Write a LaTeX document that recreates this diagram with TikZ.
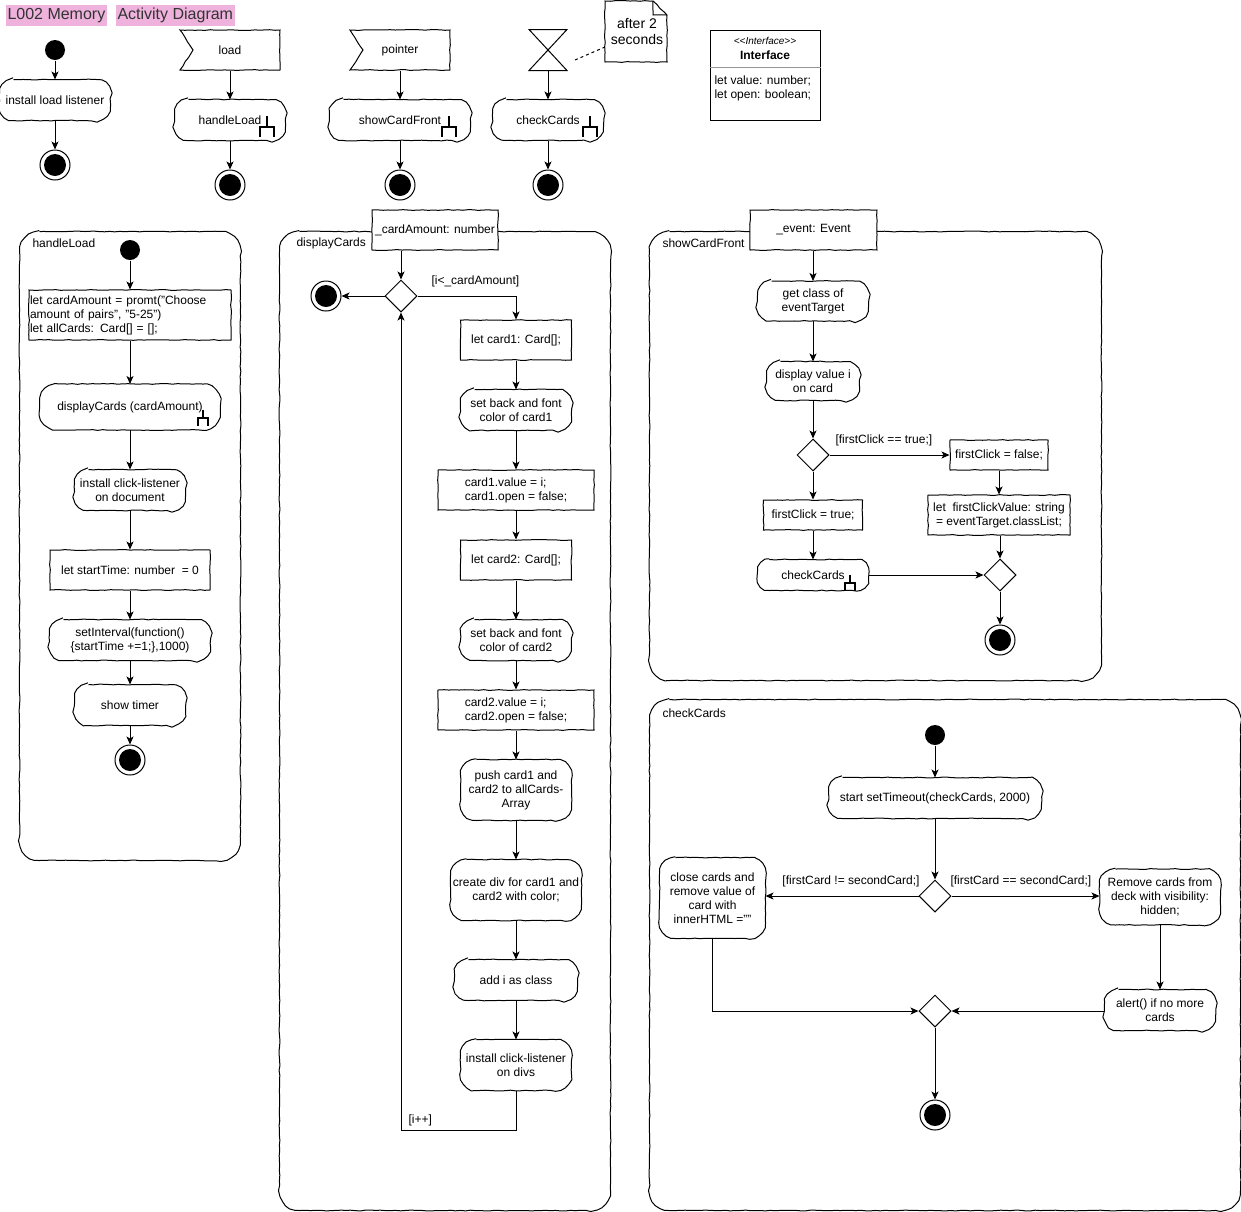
\documentclass[tikz,border=0pt]{standalone}
\usepackage{fontspec}
\setmainfont{Liberation Sans}
\usetikzlibrary{shapes.geometric,arrows.meta,decorations.pathmorphing,calc}
\definecolor{titlepink}{RGB}{238,178,220}
\definecolor{titleink}{RGB}{51,51,51}
\definecolor{divgray}{RGB}{150,150,150}
% hand-drawn outline with rounded corners around a named node
\newcommand\skround[2]{%
  \pgfmathsetmacro\kk{0.448*#2}%
  \draw[sk] ($(#1.north west)+(#2,0)$) -- ($(#1.north east)+(-#2,0)$)
    .. controls ($(#1.north east)+(-\kk,0)$) and ($(#1.north east)+(0,\kk)$) .. ($(#1.north east)+(0,#2)$)
    -- ($(#1.south east)+(0,-#2)$)
    .. controls ($(#1.south east)+(0,-\kk)$) and ($(#1.south east)+(-\kk,0)$) .. ($(#1.south east)+(-#2,0)$)
    -- ($(#1.south west)+(#2,0)$)
    .. controls ($(#1.south west)+(\kk,0)$) and ($(#1.south west)+(0,-\kk)$) .. ($(#1.south west)+(0,-#2)$)
    -- ($(#1.north west)+(0,#2)$)
    .. controls ($(#1.north west)+(0,\kk)$) and ($(#1.north west)+(\kk,0)$) .. ($(#1.north west)+(#2,0)$);}
\begin{document}
\pgfmathsetseed{11}
\begin{tikzpicture}[x=1pt,y=-1pt,
  font=\fontsize{12}{14}\selectfont, line width=1pt,
  sk/.style={decorate,decoration={random steps,segment length=5pt,amplitude=0.4pt}},
  act/.style={fill=white,rounded corners=14,align=center,inner sep=1pt,minimum height=40},
  box/.style={draw,fill=white,sk,align=center,inner sep=1pt,minimum height=40},
  start/.style={circle,fill=black,minimum size=20,inner sep=0},
  stop/.style={circle,draw,fill=white,minimum size=30,inner sep=0,
    path picture={\fill[black] (path picture bounding box.center) circle (11);}},
  dec/.style={diamond,draw,fill=white,minimum width=32,minimum height=32,inner sep=0},
  arr/.style={-{Stealth[length=8pt,width=7pt,inset=2pt]}},
  frame/.style={inner sep=0},
  plabel/.style={anchor=west,inner sep=0},
  guard/.style={inner sep=0},
  rake/.pic={\draw[line width=1.8pt] (0,-11)--(0,0) (-7,10)--(-7,0)--(7,0)--(7,10);}
]
\useasboundingbox (0,0) rectangle (1241,1211);

% ---------- panels ----------
\node[frame,minimum width=220,minimum height=628] (P1) at (130,546) {};
\node[frame,minimum width=330,minimum height=978] (P2) at (445,721) {};
\node[frame,minimum width=451,minimum height=448] (P3) at (875.5,456) {};
\node[frame,minimum width=590,minimum height=510] (P4) at (945,955) {};
\foreach \p in {P1,P2,P3,P4} {\skround{\p}{20}}
\node[plabel] (lp1) at (32,243) {handleLoad};
\node[plabel] (lp2) at (296,243) {displayCards};
\node[plabel] (lp3) at (662,243) {showCardFront};
\node[plabel] (lp4) at (662,713) {checkCards};

% ---------- title ----------
\node[fill=titlepink,text=titleink,anchor=west,inner xsep=2pt,inner ysep=0,minimum height=21,
      font=\fontsize{16}{18}\selectfont] (t1) at (5,15.5) {L002 Memory};
\node[fill=titlepink,text=titleink,anchor=west,inner xsep=2pt,inner ysep=0,minimum height=21,
      font=\fontsize{16}{18}\selectfont] (t2) at (115,15.5) {Activity Diagram};

% ---------- top row: entry points ----------
\node[start] (ini0) at (55,50) {};
\node[act,minimum width=110] (a0) at (55,100) {install load listener};
\node[stop] (fin0) at (55,165) {};
\draw[arr] (ini0) -- (a0);
\draw[arr] (a0) -- (fin0);

\draw[sk,fill=white] (180,30) -- (280,30) -- (280,70) -- (180,70) -- (193,50) -- cycle;
\node[minimum width=100,minimum height=40,inner sep=0] (sl) at (230,50) {load};
\node[act,minimum width=110] (hl) at (230,120) {handleLoad};
\node[stop] (fin1) at (230,185) {};
\draw[arr] (sl) -- (hl);
\draw[arr] (hl) -- (fin1);

\draw[sk,fill=white] (350,30) -- (450,30) -- (450,70) -- (350,70) -- (363,50) -- cycle;
\node[minimum width=100,minimum height=40,inner sep=0] (sp) at (400,50) {pointer};
\node[act,minimum width=140] (scf) at (400,120) {showCardFront};
\node[stop] (fin2) at (400,185) {};
\draw[arr] (sp) -- (scf);
\draw[arr] (scf) -- (fin2);

\node[minimum width=37,minimum height=40,inner sep=0] (hg) at (548,50) {};
\draw (hg.north west) -- (hg.north east) -- (hg.south west) -- (hg.south east) -- cycle;
\node[act,minimum width=110] (cc) at (548,120) {checkCards};
\node[stop] (fin3) at (548,185) {};
\draw[arr] (hg) -- (cc);
\draw[arr] (cc) -- (fin3);

% time event note
\draw[sk,fill=white] (605,1) -- (653,1) -- (667,15) -- (667,62) -- (605,62) -- cycle;
\draw[sk] (653,1) -- (653,15) -- (667,15);
\node[align=center,inner sep=0,font=\fontsize{14}{16}\selectfont] (note) at (637,31) {after 2\\seconds};
\coordinate (hgtip) at (575,60);
\coordinate (notetip) at (605,47);
\draw[dashed] (hgtip) -- (notetip);

% interface class
\node[draw,minimum width=110,minimum height=90,inner sep=0] (ifc) at (765,75) {};
\draw[divgray] ($(ifc.north west)+(0,38)$) -- ($(ifc.north east)+(0,38)$);
\node[inner sep=0,font=\itshape\fontsize{10}{12}\selectfont] (ster) at (765,41) {<{}<Interface>{}>};
\node[inner sep=0,font=\bfseries\fontsize{12}{14}\selectfont] (iname) at (765,55) {Interface};
\node[anchor=north west,align=left,inner sep=0] (iattr) at (714,75) {let value: number;\\let open: boolean;};

% ---------- handleLoad ----------
\node[start] (i1) at (130,250) {};
\node[box,text width=200,align=left,minimum height=50] (b1) at (130,315)
  {let cardAmount = promt("Choose\\amount of pairs", "5-25")\\let allCards: Card[] = [];};
\node[act,minimum width=180,minimum height=45,rounded corners=18] (b2) at (130,407) {displayCards (cardAmount)};
\node[act,minimum width=110] (b3) at (130,490) {install click-listener\\on document};
\node[box,minimum width=160] (b4) at (130,570) {let startTime: number\ \ = 0};
\node[act,minimum width=160] (b5) at (130,640) {setInterval(function()\\\{startTime +=1;\},1000)};
\node[act,minimum width=110] (b6) at (130,705) {show timer};
\node[stop] (f1) at (130,760) {};
\draw[arr] (i1) -- (b1);
\draw[arr] (b1) -- (b2);
\draw[arr] (b2) -- (b3);
\draw[arr] (b3) -- (b4);
\draw[arr] (b4) -- (b5);
\draw[arr] (b5) -- (b6);
\draw[arr] (b6) -- (f1);

% ---------- displayCards ----------
\node[box,minimum width=126] (pc) at (435,230) {\_cardAmount: number};
\node[dec] (d1) at (401,296) {};
\node[stop] (f2) at (326,296) {};
\node[box,minimum width=111] (c1) at (516,340) {let card1: Card[];};
\node[act,minimum width=110] (c2) at (516,410) {set back and font\\color of card1};
\node[box,minimum width=156,align=left] (c3) at (516,490) {card1.value = i;\\card1.open = false;};
\node[box,minimum width=111] (c4) at (516,560) {let card2: Card[];};
\node[act,minimum width=110] (c5) at (516,640) {set back and font\\color of card2};
\node[box,minimum width=156,align=left] (c6) at (516,710) {card2.value = i;\\card2.open = false;};
\node[act,minimum width=110,minimum height=60,rounded corners=16] (c7) at (516,790) {push card1 and\\card2 to allCards-\\Array};
\node[act,minimum width=130,minimum height=60,rounded corners=16] (c8) at (516,890) {create div for card1 and\\card2 with color;};
\node[act,minimum width=122] (c9) at (516,980) {add i as class};
\node[act,minimum width=110,minimum height=50,rounded corners=16] (c10) at (516,1065) {install click-listener\\on divs};
\coordinate (lpc) at (401,1130);
\draw[arr] (pc.south -| d1.north) -- (d1.north);
\draw[arr] (d1) -- (f2);
\draw[arr] (d1.east) -| (c1.north);
\draw[arr] (c1) -- (c2);
\draw[arr] (c2) -- (c3);
\draw[arr] (c3) -- (c4);
\draw[arr] (c4) -- (c5);
\draw[arr] (c5) -- (c6);
\draw[arr] (c6) -- (c7);
\draw[arr] (c7) -- (c8);
\draw[arr] (c8) -- (c9);
\draw[arr] (c9) -- (c10);
\draw[arr] (c10.south) |- (lpc) -- (d1.south);
\node[guard,anchor=west] (g1) at (431,281) {[i<\_cardAmount]};
\node[guard,anchor=west] (g2) at (408,1120) {[i++]};

% ---------- showCardFront ----------
\node[box,minimum width=127] (pe) at (813.5,230) {\_event: Event};
\node[act,minimum width=110,minimum height=39] (s1) at (813,301) {get class of\\eventTarget};
\node[act,minimum width=92,minimum height=38] (s2) at (813,381) {display value i\\on card};
\node[dec] (d2) at (813,455) {};
\node[box,minimum width=98,minimum height=30] (s3) at (999,455) {firstClick = false;};
\node[box,minimum width=142] (s4) at (999,515) {let\ \ firstClickValue: string\\= eventTarget.classList;};
\node[box,minimum width=99,minimum height=30] (s5) at (813,515) {firstClick = true;};
\node[act,minimum width=110,minimum height=30,rounded corners=12] (s6) at (813,575) {checkCards};
\node[dec] (d3) at (1000,575) {};
\node[stop] (f3) at (1000,640) {};
\draw[arr] (pe.south -| s1.north) -- (s1.north);
\draw[arr] (s1) -- (s2);
\draw[arr] (s2) -- (d2);
\draw[arr] (d2) -- (s3);
\draw[arr] (s3) -- (s4);
\draw[arr] (s4.south -| d3.north) -- (d3.north);
\draw[arr] (d2) -- (s5);
\draw[arr] (s5) -- (s6);
\draw[arr] (s6) -- (d3);
\draw[arr] (d3) -- (f3);
\node[guard,anchor=west] (g3) at (835,440) {[firstClick == true;]};

% ---------- checkCards ----------
\node[start] (i4) at (935,735) {};
\node[act,minimum width=212] (k1) at (935,798) {start setTimeout(checkCards, 2000)};
\node[dec] (d4) at (935,896) {};
\node[act,minimum width=105,minimum height=80,rounded corners=16] (k2) at (712.5,898) {close cards and\\remove value of\\card with\\innerHTML =""};
\node[act,minimum width=120,minimum height=55,rounded corners=16] (k3) at (1160,897) {Remove cards from\\deck with visibility:\\hidden;};
\node[act,minimum width=110] (k4) at (1160,1010) {alert() if no more\\cards};
\node[dec] (d5) at (935,1011) {};
\node[stop] (f4) at (935,1115) {};
\draw[arr] (i4) -- (k1);
\draw[arr] (k1) -- (d4);
\draw[arr] (d4.west) -- (d4.west -| k2.east);
\draw[arr] (d4.east) -- (d4.east -| k3.west);
\draw[arr] (k3) -- (k4);
\draw[arr] (k2.south) |- (d5.west);
\draw[arr] (k4.west |- d5.east) -- (d5.east);
\draw[arr] (d5) -- (f4);
\node[guard,anchor=east] (g4) at (920,881) {[firstCard != secondCard;]};
\node[guard,anchor=west] (g5) at (950,881) {[firstCard == secondCard;]};

% ---------- outlines of the action nodes ----------
\foreach \n/\r in {a0/14,hl/14,scf/14,cc/14,b2/18,b3/14,b5/14,b6/14,
                   c2/14,c5/14,c7/16,c8/16,c9/14,c10/16,
                   s1/14,s2/14,s6/12,k1/14,k2/16,k3/16,k4/14} {\skround{\n}{\r}}

% ---------- call-behaviour rakes ----------
\pic at (267,127) {rake};
\pic at (449,127) {rake};
\pic at (590,127) {rake};
\pic[scale=0.75] at (203,418) {rake};
\pic[scale=0.75] at (850,583) {rake};
\end{tikzpicture}
\end{document}
